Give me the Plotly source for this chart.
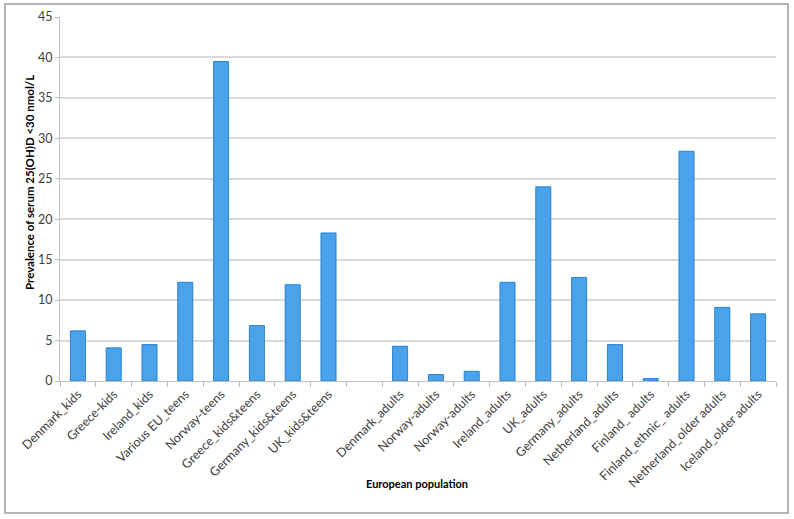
import plotly.graph_objects as go

categories = ["Denmark_kids", "Greece-kids", "Ireland_kids", "Various EU_teens", "Norway-teens",
              "Greece_kids&teens", "Germany_kids&teens", "UK_kids&teens", "",
              "Denmark_adults", "Norway-adults", "Norway-adults", "Ireland_adults", "UK_adults",
              "Germany_adults", "Netherland_adults", "Finland_ adults", "Finland_ethnic_ adults",
              "Netherland_older adults", "Iceland_older adults"]
values = [6.2, 4.1, 4.5, 12.2, 39.5, 6.85, 11.9, 18.3, None,
          4.3, 0.8, 1.2, 12.2, 24.0, 12.8, 4.5, 0.3, 28.4, 9.1, 8.3]
y_ticks = [0, 5, 10, 15, 20, 25, 30, 35, 40, 45]
x_title = "European population"
y_title = "Prevalence of serum 25(OH)D <30 nmol/L"

positions = list(range(len(categories)))
boundaries = [p - 0.5 for p in positions] + [positions[-1] + 0.5]

fig = go.Figure()
fig.add_trace(go.Bar(
    x=positions, y=values, width=0.42,
    marker=dict(color="#4aa2ea", line=dict(color="#2a82d2", width=1)),
    showlegend=False,
))

W, H = 794, 519
ml, mr, mt, mb = 60, 18, 17, 138
pw, ph = W - ml - mr, H - mt - mb

def px_to_paper_x(px):
    return (px - ml) / pw

def px_to_paper_y(py):
    return (H - mb - py) / ph

fig.update_layout(
    width=W, height=H,
    margin=dict(l=ml, r=mr, t=mt, b=mb, autoexpand=False),
    paper_bgcolor="white", plot_bgcolor="white",
    font=dict(family="Lato, 'Open Sans', sans-serif", color="#404040", size=11),
    xaxis=dict(
        automargin=False,
        range=[-0.5, len(categories) - 0.5],
        tickmode="array", tickvals=positions, ticktext=categories,
        tickangle=-45, ticks="", showgrid=False,
        showline=True, linecolor="#bfbfbf", linewidth=1,
        tickfont=dict(size=12.5, color="#404040"),
        minor=dict(tickmode="array", tickvals=boundaries, ticks="outside",
                   ticklen=5, tickcolor="#bfbfbf", showgrid=False),
        zeroline=False,
    ),
    yaxis=dict(
        automargin=False,
        range=[0, 45], tickmode="array", tickvals=y_ticks,
        showgrid=True, gridcolor="#d9d9d9", gridwidth=1.5,
        showline=True, linecolor="#bfbfbf", linewidth=1,
        ticks="outside", ticklen=4, tickcolor="#bfbfbf",
        tickfont=dict(size=12.5, color="#404040"),
        zeroline=False,
    ),
    bargap=0.58,
)

fig.add_annotation(text="<b>%s</b>" % x_title, xref="paper", yref="paper",
                   x=px_to_paper_x(416.5), y=px_to_paper_y(484), showarrow=False,
                   font=dict(size=11, color="#000000"), xanchor="center", yanchor="middle")
fig.add_annotation(text="<b>%s</b>" % y_title, xref="paper", yref="paper",
                   x=px_to_paper_x(29), y=px_to_paper_y(183), showarrow=False, textangle=-90,
                   font=dict(size=11.5, color="#000000"), xanchor="center", yanchor="middle")

fig.add_shape(type="rect", xref="paper", yref="paper",
              x0=px_to_paper_x(5), x1=px_to_paper_x(788),
              y0=px_to_paper_y(513), y1=px_to_paper_y(4),
              line=dict(color="#9a9a9a", width=1.5), fillcolor="rgba(0,0,0,0)", layer="below")

fig.write_html("out.html", config={"displayModeBar": False},
               post_script="document.body.style.margin='0';document.body.style.padding='0';")
